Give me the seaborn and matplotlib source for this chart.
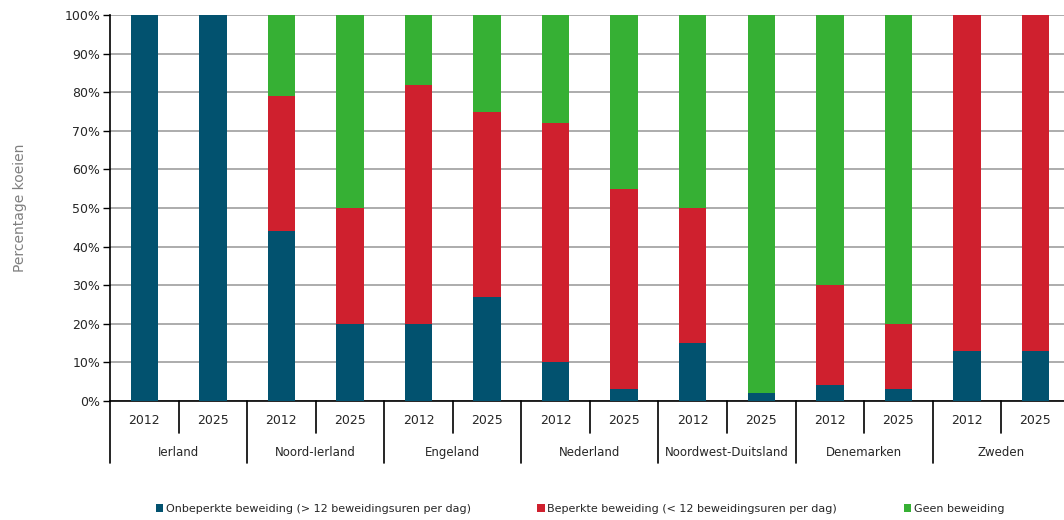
import matplotlib
matplotlib.use("Agg")
import matplotlib.pyplot as plt
import matplotlib.transforms as mtransforms
import seaborn as sns
import numpy as np

# data (percentages of cows)
countries = ['Ierland', 'Noord-Ierland', 'Engeland', 'Nederland',
             'Noordwest-Duitsland', 'Denemarken', 'Zweden']
years = ['2012', '2025']
onbeperkt = [100, 100, 44, 20, 20, 27, 10, 3, 15, 2, 4, 3, 13, 13]
beperkt = [0, 0, 35, 30, 62, 48, 62, 52, 35, 0, 26, 17, 87, 87]
geen = [0, 0, 21, 50, 18, 25, 28, 45, 50, 98, 70, 80, 0, 0]
series_names = ['Onbeperkte beweiding (> 12 beweidingsuren per dag)',
                'Beperkte beweiding (< 12 beweidingsuren per dag)',
                'Geen beweiding']
colors = ['#02526f', '#cf202e', '#36b034']

sns.set_style("white")
plt.rcParams['font.family'] = ['DejaVu Sans']

slots = [c + ' ' + y for c in countries for y in years]

fig = plt.figure(figsize=(10.64, 5.2), dpi=100)
ax = fig.add_axes([0.1034, 0.229, 0.902, 0.742])

bottom = np.zeros(len(slots))
for vals, col, name in zip([onbeperkt, beperkt, geen], colors, series_names):
    sns.barplot(x=slots, y=vals, bottom=bottom, color=col, width=0.4,
                order=slots, ax=ax, label=name, saturation=1, zorder=3,
                linewidth=0, edgecolor='none')
    bottom = bottom + np.array(vals)

ax.set_ylim(0, 100)
ax.set_xlim(-0.5, len(slots) - 0.5)
ax.set_yticks(range(0, 101, 10))
ax.set_yticklabels([f'{v}%' for v in range(0, 101, 10)], fontsize=9)
ax.yaxis.grid(True, color='#a6a6a6', linewidth=1.3, zorder=0)
ax.set_axisbelow(True)
ax.tick_params(axis='y', left=True, length=5, width=1, color='black', pad=2)
ax.set_xticks([])
ax.set_xlabel('')
for s in ['top', 'right']:
    ax.spines[s].set_visible(False)
for s in ['left', 'bottom']:
    ax.spines[s].set_color('black')
    ax.spines[s].set_linewidth(1.2)
ax.set_ylabel('Percentage koeien', color='#7f7f7f', fontsize=10, labelpad=27)

# two-level category axis
trans = mtransforms.blended_transform_factory(ax.transData, ax.transAxes)
for i, s in enumerate(slots):
    ax.text(i, -0.05, years[i % 2], transform=trans, ha='center', va='center',
            fontsize=9)
    if i % 2 == 1:
        ax.plot([i - 0.5, i - 0.5], [0, -0.082], transform=trans,
                color='black', lw=1.2, clip_on=False)
for j, c in enumerate(countries):
    ax.text(2 * j + 0.5, -0.133, c, transform=trans, ha='center', va='center',
            fontsize=8.5)
    ax.plot([2 * j - 0.5, 2 * j - 0.5], [0, -0.162], transform=trans,
            color='black', lw=1.2, clip_on=False)

handles, labels = ax.get_legend_handles_labels()
if ax.legend_:
    ax.legend_.remove()
fig.legend(handles, labels, loc='lower center', bbox_to_anchor=(0.545, -0.007),
           ncol=3, frameon=False, fontsize=8, handlelength=0.7,
           handleheight=0.7, handletextpad=0.2, columnspacing=6)

fig.savefig('out.png', dpi=100)
